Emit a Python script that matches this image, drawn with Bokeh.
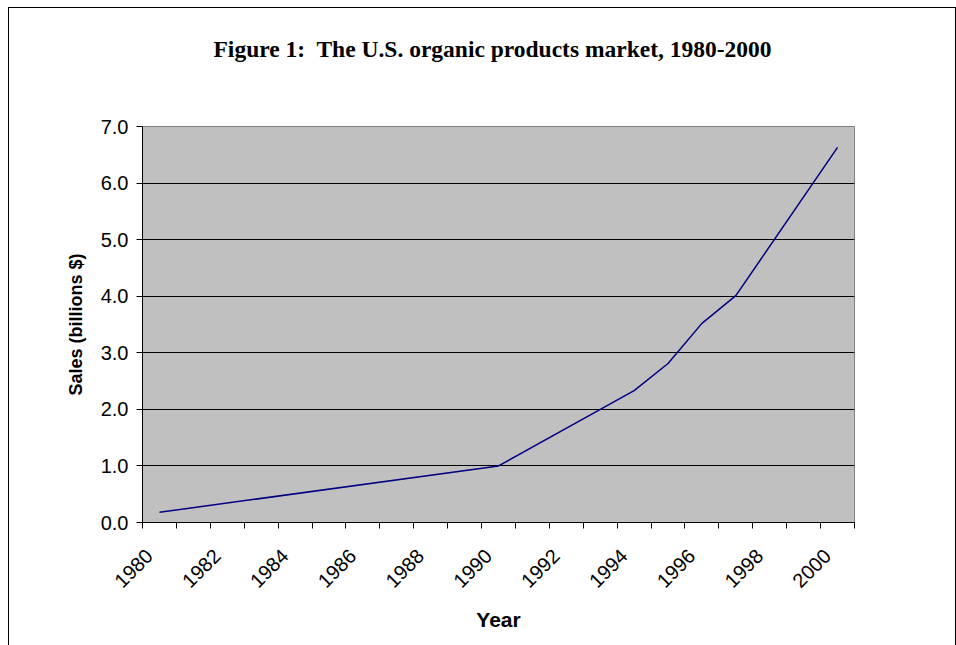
from math import pi
from bokeh.plotting import figure
from bokeh.models import Range1d, FixedTicker, ColumnDataSource, Title
from bokeh.embed import file_html
from bokeh.resources import INLINE

# ---- data ----
years = [1980, 1990, 1994, 1995, 1996, 1997, 2000]
sales = [0.18, 1.0, 2.33, 2.81, 3.52, 4.01, 6.63]
all_years = list(range(1980, 2001))
label_years = list(range(1980, 2001, 2))
y_ticks = [0, 1, 2, 3, 4, 5, 6, 7]
title_text = "Figure 1:\u00a0 The U.S. organic products market, 1980-2000"

first = all_years[0]
n_cat = len(all_years)
xs = [y - first + 0.5 for y in years]
src = ColumnDataSource(dict(x=xs, y=sales))

W, H = 956, 645
BL, BR, BT, BB = 142, 102, 126, 123
YMAX = y_ticks[-1]

p = figure(width=W, height=H, output_backend="svg", toolbar_location=None,
           x_range=Range1d(0, n_cat), y_range=Range1d(0, YMAX),
           min_border_left=BL, min_border_right=BR, min_border_top=BT,
           min_border_bottom=BB,
           styles={"box-shadow": "inset 8px 7px 0 0 white, inset 9px 8px 0 0 black, inset -1px 0 0 0 black"})
p.background_fill_color = "#C0C0C0"
p.border_fill_color = None
p.outline_line_color = "#808080"
p.outline_line_width = 1

p.line("x", "y", source=src, line_color="#000080", line_width=1.5)

# spacer between title and plot area
p.add_layout(Title(text="\u00a0", text_font_size="1px", standoff=62), "above")

# title
p.title.text = title_text
p.title.align = "left"
p.title.vertical_align = "bottom"
p.title.offset = 71
p.title.standoff = 0
p.title.text_font = "Liberation Serif"
p.title.text_font_style = "bold"
p.title.text_font_size = "23.5px"
p.title.text_color = "black"

# y axis
ya = p.yaxis[0]
ya.ticker = FixedTicker(ticks=y_ticks)
ya.major_label_overrides = {t: f"{t:.1f}" for t in y_ticks}
ya.major_tick_in = 0
ya.major_tick_out = 6
ya.minor_tick_line_color = None
ya.axis_line_color = "black"
ya.major_tick_line_color = "black"
ya.major_label_text_font = "Liberation Sans"
ya.major_label_text_font_size = "20px"
ya.major_label_text_color = "black"
ya.major_label_standoff = 8
ya.axis_label = "Sales (billions $)"
ya.axis_label_text_font = "Liberation Sans"
ya.axis_label_text_font_style = "bold"
ya.axis_label_text_font_size = "18px"
ya.axis_label_text_color = "black"
ya.axis_label_standoff = 12

# x axis
xa = p.xaxis[0]
label_shift = 0.2
label_pos = [y - first + label_shift for y in label_years]
xa.ticker = FixedTicker(ticks=label_pos, minor_ticks=list(range(n_cat + 1)))
xa.major_label_overrides = {pos: str(y) for pos, y in zip(label_pos, label_years)}
xa.major_tick_line_color = None
xa.minor_tick_line_color = "black"
xa.minor_tick_in = 0
xa.minor_tick_out = 6
xa.axis_line_color = "black"
xa.major_label_orientation = pi / 4
xa.major_label_text_font = "Liberation Sans"
xa.major_label_text_font_size = "20px"
xa.major_label_text_color = "black"
xa.major_label_standoff = 24
xa.axis_label = "Year"
xa.axis_label_text_font = "Liberation Sans"
xa.axis_label_text_font_style = "bold"
xa.axis_label_text_font_size = "21px"
xa.axis_label_text_color = "black"
xa.axis_label_standoff = 11

p.xgrid.grid_line_color = None
p.ygrid.ticker = FixedTicker(ticks=y_ticks)
p.ygrid.grid_line_color = "black"
p.ygrid.grid_line_width = 1

open("out.html", "w").write(file_html(p, INLINE))
